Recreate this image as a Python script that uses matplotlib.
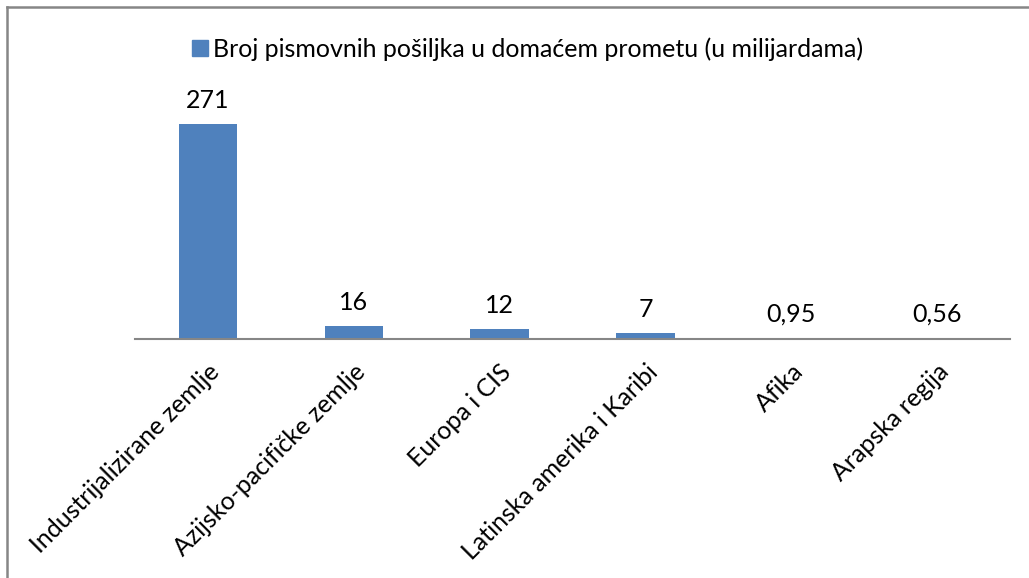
import numpy as np
import matplotlib.pyplot as plt
from matplotlib.lines import Line2D
from matplotlib.patches import Rectangle

categories = ["Industrijalizirane zemlje", "Azijsko-pacifičke zemlje", "Europa i CIS",
              "Latinska amerika i Karibi", "Afika", "Arapska regija"]
values = [271, 16, 12, 7, 0.95, 0.56]
value_labels = ["271", "16", "12", "7", "0,95", "0,56"]
series_name = "Broj pismovnih pošiljka u domaćem prometu (u milijardama)"

plt.rcParams["font.family"] = ["Lato", "DejaVu Sans"]
FS = 18
BLUE = "#4F81BD"

fig = plt.figure(figsize=(10.29, 5.78), dpi=100)
ax = fig.add_axes([135 / 1029, 1 - 339 / 578, 875 / 1029, 238 / 578])

x = np.arange(len(categories))
ax.bar(x, values, width=0.4, color=BLUE, zorder=2)
for xi, v, lab in zip(x, values, value_labels):
    ax.annotate(lab, (xi, v), xytext=(0, 9), textcoords="offset points",
                ha="center", va="bottom", fontsize=FS)

ax.set_xlim(-0.5, len(categories) - 0.5)
ax.set_ylim(0, 300)
ax.set_yticks([])
for s in ["top", "right", "left"]:
    ax.spines[s].set_visible(False)
ax.spines["bottom"].set_color("#868686")
ax.spines["bottom"].set_linewidth(1.5)
ax.set_xticks(x)
ax.set_xticklabels(categories, rotation=45, ha="right", rotation_mode="anchor",
                   fontsize=FS)
ax.tick_params(axis="x", length=0, pad=15)

# legend
fig.patches.append(Rectangle((192 / 1029, 1 - 56 / 578), 16 / 1029, 16 / 578,
                             transform=fig.transFigure, color=BLUE))
fig.text(213 / 1029, 1 - 49 / 578, series_name, fontsize=FS, va="center", ha="left")

# chart border (only top and left visible)
fig.add_artist(Line2D([7 / 1029, 7 / 1029], [0, 1 - 7 / 578], color="#868686", lw=1.8,
                      transform=fig.transFigure))
fig.add_artist(Line2D([7 / 1029, 1], [1 - 7 / 578, 1 - 7 / 578], color="#868686", lw=1.8,
                      transform=fig.transFigure))

fig.savefig("out.png", dpi=100)
